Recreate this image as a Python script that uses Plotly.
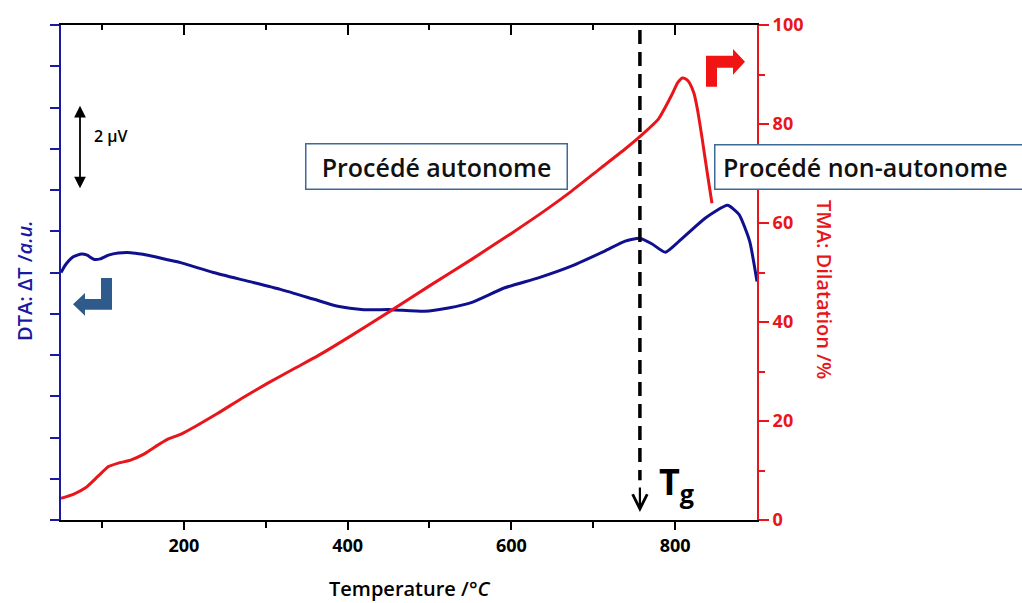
import plotly.graph_objects as go

# ---------------- data ----------------
temp_tma = [50, 65, 80, 95, 108, 120, 135, 150, 165, 180, 196, 215, 241, 270, 302, 335,
            364, 404, 453, 500, 551, 600, 640, 674, 710, 740, 760, 780, 796, 803, 809,
            814, 818, 823, 827, 833, 839, 845]
tma = [4.4, 5.2, 6.5, 8.8, 10.8, 11.5, 12.1, 13.2, 14.8, 16.3, 17.3, 19.0, 21.5, 24.5,
       27.6, 30.6, 33.2, 37.2, 42.3, 47.3, 52.6, 57.9, 62.4, 66.5, 71.2, 75.1, 77.9,
       81.1, 85.9, 88.3, 89.3, 89.0, 88.2, 86.2, 83.2, 77.1, 70.4, 64.0]

temp_dta = [50, 56, 65, 75, 82, 90, 98, 108, 120, 135, 150, 165, 180, 196, 236, 278,
            318, 359, 388, 420, 453, 494, 523, 551, 592, 633, 674, 714, 739, 757, 772,
            788, 805, 837, 864, 878, 891, 900]
dta = [6.0, 6.2, 6.38, 6.45, 6.42, 6.32, 6.33, 6.42, 6.47, 6.48, 6.44, 6.38, 6.31, 6.24,
       6.0, 5.79, 5.59, 5.35, 5.18, 5.1, 5.1, 5.06, 5.14, 5.27, 5.63, 5.87, 6.16, 6.52,
       6.76, 6.83, 6.69, 6.49, 6.76, 7.32, 7.63, 7.41, 6.76, 5.78]

x_major = [200, 400, 600, 800]
x_minor = [100, 300, 500, 700]
tma_ticks = [0, 20, 40, 60, 80, 100]
TG = 757

BLUE = "#10108f"
BLUE_AX = "#1a1aa0"
RED = "#e8161b"
FONT = "Open Sans"

# plot-area pixel frame (for decorations)
L, R, T, B = 61, 757, 23, 520
W, H = 1022, 603


def xp(px):
    return (px - L) / (R - L)


def yp(py):
    return (B - py) / (B - T)


def path(points):
    s = "M " + " L ".join(f"{xp(a):.5f},{yp(b):.5f}" for a, b in points) + " Z"
    return s


fig = go.Figure()
fig.add_trace(go.Scatter(x=temp_dta, y=dta, mode="lines", xaxis="x", yaxis="y",
                         line=dict(color=BLUE, width=3, shape="spline", smoothing=0.5),
                         showlegend=False, hoverinfo="skip"))
fig.add_trace(go.Scatter(x=temp_tma, y=tma, mode="lines", xaxis="x", yaxis="y2",
                         line=dict(color=RED, width=3, shape="spline", smoothing=0.5),
                         showlegend=False, hoverinfo="skip"))
fig.add_trace(go.Scatter(x=[], y=[], xaxis="x2", yaxis="y", showlegend=False))

fig.update_layout(
    width=W, height=H,
    margin=dict(l=L, r=W - R, t=T, b=H - B),
    paper_bgcolor="white", plot_bgcolor="white",
    font=dict(family=FONT, color="black"),
    xaxis=dict(range=[50, 900], showline=True, linecolor="black", linewidth=2,
               ticks="outside", ticklen=8, tickwidth=2, tickcolor="black",
               tickvals=x_major, tickfont=dict(size=18, weight="bold", color="black"),
               minor=dict(tickvals=x_minor, ticks="outside", ticklen=6, tickwidth=2,
                          tickcolor="black"),
               showgrid=False, zeroline=False, fixedrange=True),
    xaxis2=dict(range=[50, 900], overlaying="x", side="top", anchor="y",
                showline=True, linecolor="black", linewidth=2,
                ticks="inside", ticklen=10, tickwidth=2, tickcolor="black",
                tickvals=x_major, showticklabels=False,
                minor=dict(tickvals=x_minor, ticks="inside", ticklen=5, tickwidth=2,
                           tickcolor="black"),
                showgrid=False, zeroline=False),
    yaxis=dict(range=[0, 12], showline=True, linecolor=BLUE_AX, linewidth=2,
               ticks="outside", ticklen=9, tickwidth=2, tickcolor=BLUE_AX,
               tick0=0, dtick=1, showticklabels=False,
               showgrid=False, zeroline=False),
    yaxis2=dict(range=[0, 100], overlaying="y", side="right", anchor="x",
                showline=True, linecolor=RED, linewidth=2,
                ticks="outside", ticklen=10, tickwidth=2, tickcolor=RED,
                tickvals=tma_ticks, tickfont=dict(size=18, weight="bold", color=RED),
                minor=dict(dtick=10, ticks="outside", ticklen=6, tickwidth=2, tickcolor=RED),
                showgrid=False, zeroline=False),
)

# Tg dashed line
fig.add_shape(type="line", xref="x", yref="paper", x0=TG, x1=TG, y0=yp(28), y1=yp(480),
              line=dict(color="black", width=3.5, dash="14px,8px"))

# icons
fig.add_shape(type="path", xref="paper", yref="paper", fillcolor="#2e5b8c", line_width=0,
              path=path([(112, 277), (112, 309), (85, 309), (85, 315), (73, 303.5),
                         (85, 292), (85, 298), (101, 298), (101, 277)]))
fig.add_shape(type="path", xref="paper", yref="paper", fillcolor="#f01414", line_width=0,
              path=path([(706, 85), (706, 54), (733, 54), (733, 47), (745, 60),
                         (733, 73), (733, 66), (717, 66), (717, 85)]))

ann = []
# titles
ann.append(dict(text="Temperature /<i>°C</i>", xref="paper", yref="paper",
                x=xp(410), y=yp(589), xanchor="center", yanchor="middle", showarrow=False,
                font=dict(size=20, weight=600, color="black", family=FONT)))
ann.append(dict(text="DTA: ΔT /<i>a.u.</i>", xref="paper", yref="paper",
                x=xp(25), y=yp(280), xanchor="center", yanchor="middle", showarrow=False,
                textangle=-90, font=dict(size=20, weight=600, color=BLUE_AX, family=FONT)))
ann.append(dict(text="TMA: Dilatation /%", xref="paper", yref="paper",
                x=xp(824), y=yp(288), xanchor="center", yanchor="middle", showarrow=False,
                textangle=90, font=dict(size=20, weight=600, color=RED, family=FONT)))
# boxes
ann.append(dict(text="Procédé autonome", xref="paper", yref="paper",
                x=xp(436.5), y=yp(165.5), xanchor="center", yanchor="middle", showarrow=False,
                width=260, height=44, borderpad=0, borderwidth=1.5, bordercolor="#3f6a96",
                bgcolor="white", align="center", valign="middle",
                font=dict(size=25, weight=600, color="#111111", family=FONT)))
ann.append(dict(text="Procédé non-autonome", xref="paper", yref="paper",
                x=xp(714), y=yp(165.5), xanchor="left", yanchor="middle", showarrow=False,
                width=340, height=28, borderpad=7.5, borderwidth=1.5, bordercolor="#3f6a96",
                bgcolor="white", align="left", valign="middle",
                font=dict(size=25, weight=600, color="#111111", family=FONT)))
# 2 µV scale arrow
ann.append(dict(text="", xref="paper", yref="paper", axref="pixel", ayref="pixel",
                x=xp(80), y=yp(187), ax=0, ay=-84, showarrow=True,
                arrowside="end+start", arrowhead=2, startarrowhead=2,
                arrowsize=1.3, startarrowsize=1.3, arrowwidth=1.8, arrowcolor="black",
                standoff=0, startstandoff=0))
ann.append(dict(text="2 µV", xref="paper", yref="paper", x=xp(92), y=yp(134),
                xanchor="left", yanchor="middle", showarrow=False,
                font=dict(size=16, weight=600, color="black", family=FONT)))
# Tg arrow + label
ann.append(dict(text="", xref="x", yref="paper", x=TG, y=yp(512), ax=0, ay=-26,
                showarrow=True, arrowhead=5, arrowsize=1.3, arrowwidth=2.2,
                arrowcolor="black", standoff=0))
ann.append(dict(text="T<sub>g</sub>", xref="paper", yref="paper", x=xp(657), y=yp(483),
                xanchor="left", yanchor="middle", showarrow=False,
                font=dict(size=36, weight="bold", color="black", family=FONT)))

fig.update_layout(annotations=ann)
fig.write_html("out.html")
